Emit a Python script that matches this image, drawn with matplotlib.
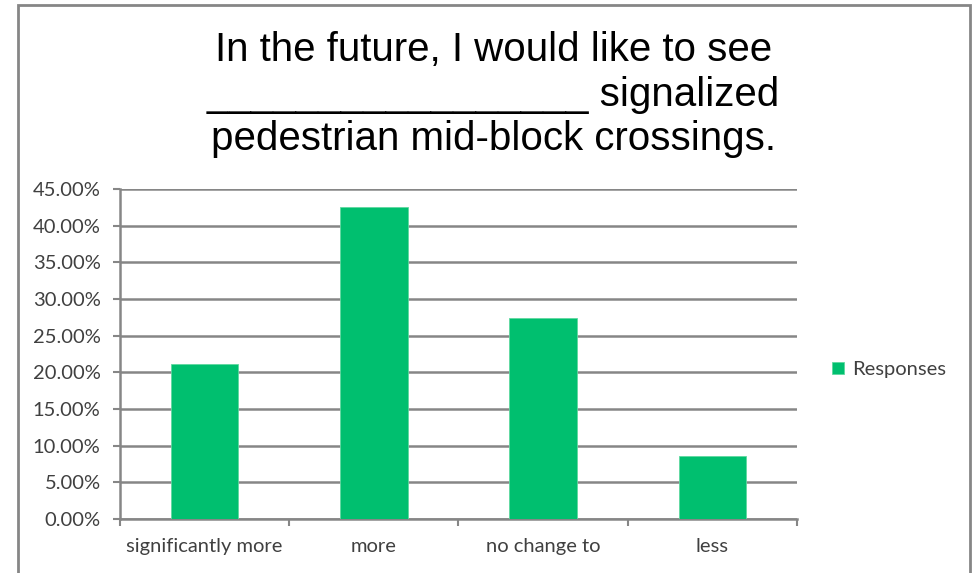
import matplotlib.pyplot as plt
from matplotlib.patches import Rectangle
import numpy as np

categories = ['significantly more', 'more', 'no change to', 'less']
responses = [21.2, 42.6, 27.4, 8.6]
yticks = [0, 5, 10, 15, 20, 25, 30, 35, 40, 45]

green = '#00BF6F'
grey = '#868686'

fig = plt.figure(figsize=(9.75, 5.73), dpi=100)
ax = fig.add_axes([0.1231, 0.0942, 0.8174 - 0.1231, 0.6702 - 0.0942])

x = np.arange(len(categories))
ax.bar(x, responses, width=0.4, color=green, edgecolor='#5FD9A0', linewidth=0.6,
       label='Responses', zorder=3)

ax.set_xlim(-0.5, len(categories) - 0.5)
ax.set_ylim(0, 45)
ax.set_yticks(yticks)
ax.set_yticklabels(['%.2f%%' % v for v in yticks], fontfamily='Lato', fontsize=14.5, color='#404040')
ax.yaxis.grid(True, color=grey, linewidth=1.8, zorder=0)
ax.set_axisbelow(True)

# category labels centered, ticks on the boundaries
ax.set_xticks(np.arange(len(categories) + 1) - 0.5)
ax.set_xticklabels([])
ax.set_xticks(x, minor=True)
ax.set_xticklabels(categories, minor=True, fontfamily='Lato', fontsize=14.5, color='#404040')
ax.tick_params(axis='x', which='minor', length=0, pad=14)
ax.tick_params(axis='x', which='major', length=5, width=1.5, color=grey, direction='out')
ax.tick_params(axis='y', length=5, width=1.5, color=grey, pad=9)

for s in ['top', 'right']:
    ax.spines[s].set_visible(False)
for s in ['left', 'bottom']:
    ax.spines[s].set_color(grey)
    ax.spines[s].set_linewidth(1.8)

fig.text(0.506, 0.946, 'In the future, I would like to see\n'
         '_________________ signalized\n'
         'pedestrian mid-block crossings.',
         ha='center', va='top', fontfamily='Liberation Sans', fontsize=29,
         linespacing=1.22)

leg = fig.legend(loc='center left', bbox_to_anchor=(0.835, 0.355), frameon=False,
                 prop={'family': 'Lato', 'size': 14.5}, handlelength=0.6, handleheight=0.6,
                 handletextpad=0.4)
for t in leg.get_texts():
    t.set_color('#404040')

# chart border
fig.patches.append(Rectangle((18 / 975, -0.05), (970 - 18) / 975, 1.05 - 5 / 573,
                             transform=fig.transFigure, fill=False,
                             edgecolor=grey, linewidth=2))

fig.savefig('out.png', dpi=100)
